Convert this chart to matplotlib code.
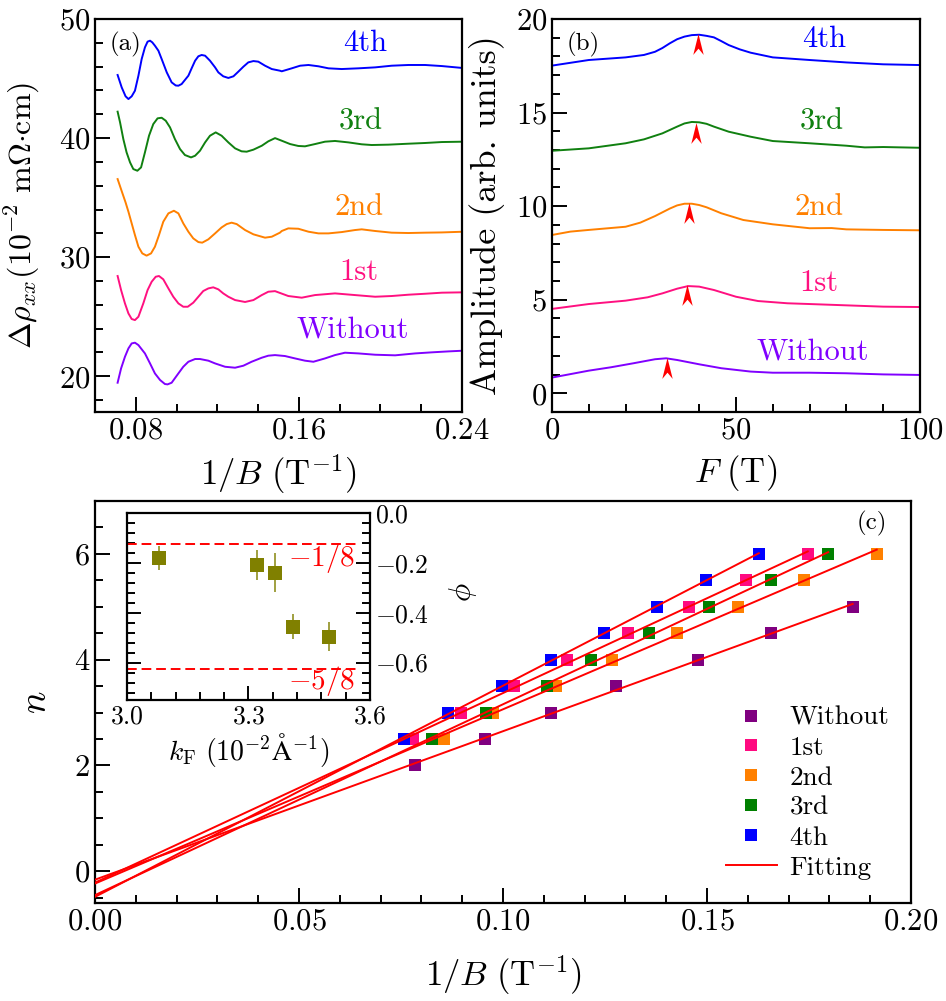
import numpy as np
import matplotlib
matplotlib.use('Agg')
import matplotlib.pyplot as plt
from matplotlib.path import Path
from matplotlib.ticker import MultipleLocator, FixedLocator

plt.rcParams['font.family'] = 'serif'
plt.rcParams['font.serif'] = ['cmr10']
plt.rcParams['mathtext.fontset'] = 'cm'
plt.rcParams['axes.formatter.use_mathtext'] = True
plt.rcParams['axes.unicode_minus'] = True

# ---- panel (a): SdH oscillations, 1/B (T^-1) vs delta rho
a_x_4th = [0.0711, 0.0731, 0.0750, 0.0764, 0.0780, 0.0796, 0.0813, 0.0829, 0.0845, 0.0858,
           0.0870, 0.0881, 0.0894, 0.0911, 0.0927, 0.0952, 0.0976, 0.0996, 0.1009, 0.1025,
           0.1041, 0.1058, 0.1074, 0.1091, 0.1107, 0.1123, 0.1140, 0.1164, 0.1189, 0.1205,
           0.1229, 0.1254, 0.1279, 0.1303, 0.1328, 0.1352, 0.1377, 0.1401, 0.1434, 0.1467,
           0.1507, 0.1516, 0.1565, 0.1606, 0.1647, 0.1696, 0.1745, 0.1810, 0.1892, 0.1974,
           0.2055, 0.2137, 0.2219, 0.2301, 0.2402]
a_y_4th = [45.30, 44.26, 43.51, 43.28, 43.51, 43.98, 45.24, 46.64, 47.62, 48.10,
           48.18, 48.04, 47.76, 47.34, 46.64, 45.52, 44.68, 44.42, 44.40, 44.54,
           44.88, 45.24, 45.86, 46.50, 46.87, 46.98, 46.92, 46.50, 45.94, 45.52,
           45.19, 45.05, 45.19, 45.58, 46.00, 46.36, 46.47, 46.42, 46.08, 45.80,
           45.66, 45.61, 45.86, 46.08, 46.14, 46.03, 45.86, 45.80, 45.86, 45.94,
           46.08, 46.14, 46.14, 46.05, 45.89]
a_x_3rd = [0.0711, 0.0723, 0.0739, 0.0755, 0.0772, 0.0788, 0.0808, 0.0826, 0.0845, 0.0865,
           0.0886, 0.0907, 0.0927, 0.0947, 0.0968, 0.0992, 0.1017, 0.1041, 0.1071, 0.1091,
           0.1115, 0.1140, 0.1164, 0.1192, 0.1221, 0.1254, 0.1287, 0.1319, 0.1344, 0.1377,
           0.1418, 0.1450, 0.1483, 0.1516, 0.1557, 0.1597, 0.1630, 0.1679, 0.1728, 0.1777,
           0.1843, 0.1908, 0.1957, 0.2039, 0.2137, 0.2219, 0.2301, 0.2407]
a_y_3rd = [42.22, 41.32, 39.92, 38.80, 37.96, 37.40, 37.26, 37.54, 38.80, 40.20,
           41.18, 41.66, 41.71, 41.46, 40.90, 39.92, 39.08, 38.58, 38.38, 38.52,
           38.94, 39.64, 40.20, 40.48, 40.20, 39.64, 39.14, 38.89, 38.86, 39.03,
           39.36, 39.73, 40.00, 39.78, 39.50, 39.34, 39.31, 39.50, 39.70, 39.76,
           39.64, 39.48, 39.42, 39.45, 39.53, 39.59, 39.67, 39.70]
a_x_2nd = [0.0711, 0.0731, 0.0750, 0.0764, 0.0780, 0.0796, 0.0813, 0.0832, 0.0853, 0.0875,
           0.0894, 0.0914, 0.0935, 0.0960, 0.0987, 0.1009, 0.1033, 0.1058, 0.1082, 0.1107,
           0.1126, 0.1156, 0.1189, 0.1221, 0.1246, 0.1270, 0.1295, 0.1336, 0.1377, 0.1434,
           0.1467, 0.1507, 0.1516, 0.1548, 0.1597, 0.1647, 0.1696, 0.1745, 0.1810, 0.1875,
           0.1908, 0.1974, 0.2055, 0.2137, 0.2219, 0.2301, 0.2407]
a_y_2nd = [36.56, 35.55, 34.60, 33.82, 32.84, 31.86, 30.88, 30.32, 30.13, 30.32,
           30.88, 31.86, 32.98, 33.68, 33.90, 33.68, 32.84, 32.14, 31.58, 31.27,
           31.22, 31.50, 32.00, 32.50, 32.78, 32.90, 32.78, 32.28, 31.92, 31.64,
           31.72, 32.06, 32.20, 32.42, 32.39, 32.14, 32.00, 32.00, 32.11, 32.28,
           32.34, 32.20, 32.06, 32.03, 32.06, 32.08, 32.14]
a_x_1st = [0.0711, 0.0728, 0.0747, 0.0764, 0.0780, 0.0796, 0.0813, 0.0837, 0.0858, 0.0878,
           0.0898, 0.0914, 0.0935, 0.0960, 0.0984, 0.1009, 0.1033, 0.1055, 0.1082, 0.1107,
           0.1131, 0.1156, 0.1180, 0.1205, 0.1229, 0.1254, 0.1287, 0.1336, 0.1377, 0.1418,
           0.1450, 0.1483, 0.1548, 0.1614, 0.1679, 0.1777, 0.1875, 0.1974, 0.2055, 0.2137,
           0.2219, 0.2301, 0.2407]
a_y_1st = [28.42, 27.24, 26.12, 25.28, 24.81, 24.72, 25.00, 26.12, 27.24, 27.94,
           28.36, 28.42, 28.14, 27.38, 26.68, 26.12, 25.84, 25.84, 26.18, 26.68,
           27.16, 27.38, 27.47, 27.30, 26.96, 26.68, 26.40, 26.24, 26.40, 26.82,
           27.10, 27.15, 26.74, 26.60, 26.82, 26.96, 26.82, 26.68, 26.74, 26.85,
           26.93, 27.02, 27.05]
a_x_wo = [0.0711, 0.0728, 0.0747, 0.0764, 0.0780, 0.0796, 0.0813, 0.0845, 0.0870, 0.0894,
          0.0919, 0.0943, 0.0956, 0.0976, 0.1009, 0.1033, 0.1058, 0.1091, 0.1115, 0.1156,
          0.1189, 0.1238, 0.1287, 0.1328, 0.1368, 0.1418, 0.1450, 0.1483, 0.1532, 0.1581,
          0.1630, 0.1671, 0.1728, 0.1777, 0.1826, 0.1892, 0.1974, 0.2072, 0.2170, 0.2251,
          0.2333, 0.2407]
a_y_wo = [19.46, 20.66, 21.64, 22.34, 22.76, 22.82, 22.62, 21.92, 21.08, 20.24,
          19.69, 19.35, 19.32, 19.46, 20.24, 20.80, 21.22, 21.45, 21.45, 21.31,
          21.08, 20.80, 20.72, 20.89, 21.22, 21.56, 21.73, 21.78, 21.70, 21.50,
          21.31, 21.22, 21.50, 21.78, 21.98, 21.92, 21.81, 21.76, 21.92, 22.01,
          22.09, 22.15]

# ---- panel (b): FFT amplitude vs F (T)
b_F_4th = [0, 10, 20, 25, 28, 30, 32, 34, 36, 38, 40, 42, 44, 46, 48, 51, 54, 60, 70, 80, 90, 100]
b_A_4th = [17.51, 17.81, 17.95, 18.08, 18.25, 18.45, 18.70, 18.92, 19.06, 19.14, 19.16,
           19.10, 19.02, 18.82, 18.61, 18.38, 18.20, 17.95, 17.81, 17.68, 17.58, 17.54]
b_F_3rd = [0, 10, 20, 25, 30, 34, 36, 38, 40, 42, 44, 48, 54, 60, 70, 80, 85, 90, 100]
b_A_3rd = [12.96, 13.09, 13.36, 13.57, 13.89, 14.25, 14.42, 14.50, 14.48, 14.40, 14.25,
           13.98, 13.71, 13.48, 13.36, 13.23, 13.14, 13.16, 13.12]
b_F_2nd = [0, 5, 10, 20, 24, 28, 32, 34, 36, 38, 40, 42, 46, 52, 60, 70, 76, 80, 90, 100]
b_A_2nd = [8.46, 8.64, 8.73, 8.90, 9.12, 9.47, 9.87, 10.04, 10.13, 10.13, 10.06,
           9.94, 9.62, 9.26, 9.03, 8.82, 8.83, 8.76, 8.73, 8.71]
b_F_1st = [0, 10, 20, 26, 30, 34, 37, 40, 44, 50, 56, 64, 70, 80, 90, 100]
b_A_1st = [4.51, 4.77, 4.95, 5.13, 5.34, 5.59, 5.73, 5.70, 5.52, 5.16, 4.93,
           4.81, 4.77, 4.70, 4.63, 4.61]
b_F_wo = [0, 10, 16, 22, 28, 31, 34, 40, 46, 54, 60, 70, 80, 90, 100]
b_A_wo = [0.84, 1.21, 1.39, 1.60, 1.82, 1.87, 1.78, 1.55, 1.34, 1.16, 1.10,
          1.10, 1.07, 1.01, 0.98]
arrow_F = [39.6, 39.1, 37.2, 36.6, 31.2]
arrow_A = [18.66, 13.93, 9.63, 5.25, 1.35]

# ---- panel (c): Landau level index n vs 1/B
n_wo = [2.0, 2.5, 3.0, 3.5, 4.0, 4.5, 5.0]
x_wo = [0.0785, 0.0956, 0.1117, 0.1276, 0.1477, 0.1657, 0.1857]
n_1st = [2.5, 3.0, 3.5, 4.0, 4.5, 5.0, 5.5, 6.0]
x_1st = [0.0780, 0.0897, 0.1027, 0.1157, 0.1306, 0.1456, 0.1596, 0.1747]
n_2nd = [2.5, 3.0, 3.5, 4.0, 4.5, 5.0, 5.5, 6.0]
x_2nd = [0.0856, 0.0976, 0.1130, 0.1267, 0.1426, 0.1576, 0.1737, 0.1916]
n_3rd = [2.5, 3.0, 3.5, 4.0, 4.5, 5.0, 5.5, 6.0]
x_3rd = [0.0826, 0.0958, 0.1107, 0.1216, 0.1358, 0.1505, 0.1657, 0.1797]
n_4th = [2.5, 3.0, 3.5, 4.0, 4.5, 5.0, 5.5, 6.0]
x_4th = [0.0757, 0.0866, 0.0997, 0.1117, 0.1247, 0.1377, 0.1497, 0.1627]

# inset: phase vs k_F
kF = [3.08, 3.32, 3.365, 3.41, 3.50]
phi = [-0.18, -0.208, -0.24, -0.456, -0.496]
phi_err = [0.048, 0.06, 0.078, 0.05, 0.058]

labels = ['Without', '1st', '2nd', '3rd', '4th']
line_colors = ['#8000FF', '#FF1080', '#FF8000', '#108010', '#0000FF']
marker_colors = ['#800080', '#FF0A80', '#FF8000', '#008000', '#0000FF']

fig = plt.figure(figsize=(9.46, 10.01), dpi=100)
ax_a = fig.add_axes([0.1004, 0.5884, 0.388, 0.3926])
ax_b = fig.add_axes([0.5835, 0.5884, 0.389, 0.3926])
ax_c = fig.add_axes([0.1004, 0.0979, 0.8626, 0.4016])
ax_in = fig.add_axes([0.1342, 0.3007, 0.2569, 0.1868])

tick_fs = 22
for ax in (ax_a, ax_b, ax_c, ax_in):
    for s in ax.spines.values():
        s.set_linewidth(1.6)
    ax.tick_params(which='both', direction='in', top=False, right=False,
                   labelsize=tick_fs, width=1.4)
    ax.tick_params(which='major', length=11)
    ax.tick_params(which='minor', length=6)

# (a)
a_sets = [(a_x_wo, a_y_wo), (a_x_1st, a_y_1st), (a_x_2nd, a_y_2nd),
          (a_x_3rd, a_y_3rd), (a_x_4th, a_y_4th)]
a_lab_pos = [(0.1865, 23.9), (0.1895, 28.7), (0.1895, 34.2), (0.1905, 41.35), (0.1924, 47.98)]
for (xs, ys), c, lab, (tx, ty) in zip(a_sets, line_colors, labels, a_lab_pos):
    ax_a.plot(xs, ys, color=c, lw=1.4)
    ax_a.text(tx, ty, lab, color=c, fontsize=22, ha='center', va='center')
ax_a.set_xlim(0.06, 0.24)
ax_a.set_ylim(17, 50)
ax_a.xaxis.set_major_locator(FixedLocator([0.08, 0.16, 0.24]))
ax_a.xaxis.set_minor_locator(MultipleLocator(0.02))
ax_a.yaxis.set_major_locator(MultipleLocator(10))
ax_a.yaxis.set_minor_locator(MultipleLocator(2))
ax_a.set_xlabel(r'$1/B\ (\mathrm{T}^{-1})$', fontsize=25, labelpad=6)
ax_a.set_ylabel(r'$\Delta\rho_{xx}(10^{-2}\ \mathrm{m}\Omega{\cdot}\mathrm{cm})$', fontsize=23)
ax_a.yaxis.set_label_coords(-0.144, 0.5)
ax_a.text(0.04, 0.935, '(a)', transform=ax_a.transAxes, fontsize=18, va='center')

# (b)
b_sets = [(b_F_wo, b_A_wo), (b_F_1st, b_A_1st), (b_F_2nd, b_A_2nd),
          (b_F_3rd, b_A_3rd), (b_F_4th, b_A_4th)]
b_lab_pos = [(70.9, 2.2), (72.6, 5.89), (72.6, 9.95), (73.4, 14.5), (73.9, 18.93)]
for (xs, ys), c, lab, (tx, ty) in zip(b_sets, line_colors, labels, b_lab_pos):
    ax_b.plot(xs, ys, color=c, lw=1.4)
    ax_b.text(tx, ty, lab, color=c, fontsize=22, ha='center', va='center')
head = Path([(0, 1), (0.5, -1), (0, -0.4), (-0.5, -1), (0, 1)],
            [Path.MOVETO, Path.LINETO, Path.LINETO, Path.LINETO, Path.CLOSEPOLY])
ax_b.plot(arrow_F, arrow_A, ls='none', marker=head, ms=15, color='#FF0000', mew=0)
ax_b.set_xlim(0, 100)
ax_b.set_ylim(-1, 20)
ax_b.xaxis.set_major_locator(MultipleLocator(50))
ax_b.xaxis.set_minor_locator(MultipleLocator(10))
ax_b.yaxis.set_major_locator(MultipleLocator(5))
ax_b.yaxis.set_minor_locator(MultipleLocator(1))
ax_b.set_xlabel(r'$F\ (\mathrm{T})$', fontsize=25, labelpad=6)
ax_b.set_ylabel('Amplitude (arb. units)', fontsize=26)
ax_b.yaxis.set_label_coords(-0.128, 0.5)
ax_b.text(0.04, 0.935, '(b)', transform=ax_b.transAxes, fontsize=18, va='center')

# (c)
c_sets = [(x_wo, n_wo), (x_1st, n_1st), (x_2nd, n_2nd), (x_3rd, n_3rd), (x_4th, n_4th)]
handles = []
for (xs, ns), c, lab in zip(c_sets, marker_colors, labels):
    k, b0 = np.polyfit(xs, ns, 1)
    xf = np.array([0.0, max(xs)])
    ax_c.plot(xf, k * xf + b0, color='#FF0000', lw=1.4, zorder=3)
    h, = ax_c.plot(xs, ns, ls='none', marker='s', ms=9, color=c, mew=0, label=lab, zorder=2)
    handles.append(h)
fit_h, = ax_c.plot([], [], color='#FF0000', lw=1.4, label='Fitting')
handles.append(fit_h)
ax_c.legend(handles=handles, loc='upper left', bbox_to_anchor=(0.773, 0.49),
            frameon=False, fontsize=19.5, handlelength=1.9, handletextpad=0.45,
            labelspacing=0.22, borderpad=0, borderaxespad=0, markerscale=0.95)
ax_c.set_xlim(0, 0.2)
ax_c.set_ylim(-0.6, 7)
ax_c.xaxis.set_major_locator(MultipleLocator(0.05))
ax_c.xaxis.set_minor_locator(MultipleLocator(0.01))
ax_c.yaxis.set_major_locator(MultipleLocator(2))
ax_c.yaxis.set_minor_locator(MultipleLocator(0.5))
ax_c.set_xlabel(r'$1/B\ (\mathrm{T}^{-1})$', fontsize=25, labelpad=13)
ax_c.set_ylabel(r'$n$', fontsize=27)
ax_c.yaxis.set_label_coords(-0.0515, 0.5)
ax_c.text(0.97, 0.945, '(c)', transform=ax_c.transAxes, fontsize=18, ha='right', va='center')

# inset
ax_in.errorbar(kF, phi, yerr=phi_err, fmt='s', ms=10, color='#808000',
               ecolor='#909020', elinewidth=1.2, capsize=5, capthick=1.2, mew=0)
ax_in.plot([3.0, 3.57], [-1 / 8, -1 / 8], ls='--', color='#FF0000', lw=1.4, dashes=(5, 2.5))
ax_in.plot([3.0, 3.57], [-5 / 8, -5 / 8], ls='--', color='#FF0000', lw=1.4, dashes=(5, 2.5))
ax_in.text(3.48, -0.18, r'$-1/8$', color='#FF0000', fontsize=21, ha='center', va='center')
ax_in.text(3.48, -0.675, r'$-5/8$', color='#FF0000', fontsize=21, ha='center', va='center')
ax_in.set_xlim(3.0, 3.6)
ax_in.set_ylim(-0.75, 0.0)
ax_in.xaxis.set_major_locator(MultipleLocator(0.3))
ax_in.xaxis.set_minor_locator(MultipleLocator(0.06))
ax_in.yaxis.set_major_locator(MultipleLocator(0.2))
ax_in.yaxis.set_minor_locator(MultipleLocator(0.04))
ax_in.tick_params(which='both', left=True, right=True, labelleft=False,
                  labelright=True, labelsize=18.5)
ax_in.tick_params(which='major', length=10)
ax_in.tick_params(which='minor', length=6)
ax_in.yaxis.set_label_position('right')
ax_in.set_ylabel(r'$\phi$', fontsize=22)
ax_in.yaxis.set_label_coords(1.317, 0.575)
ax_in.set_xlabel(r'$k_{\mathrm{F}}\ (10^{-2}\mathrm{\AA}^{-1})$', fontsize=20, labelpad=2)

fig.savefig('out.png', dpi=100)
